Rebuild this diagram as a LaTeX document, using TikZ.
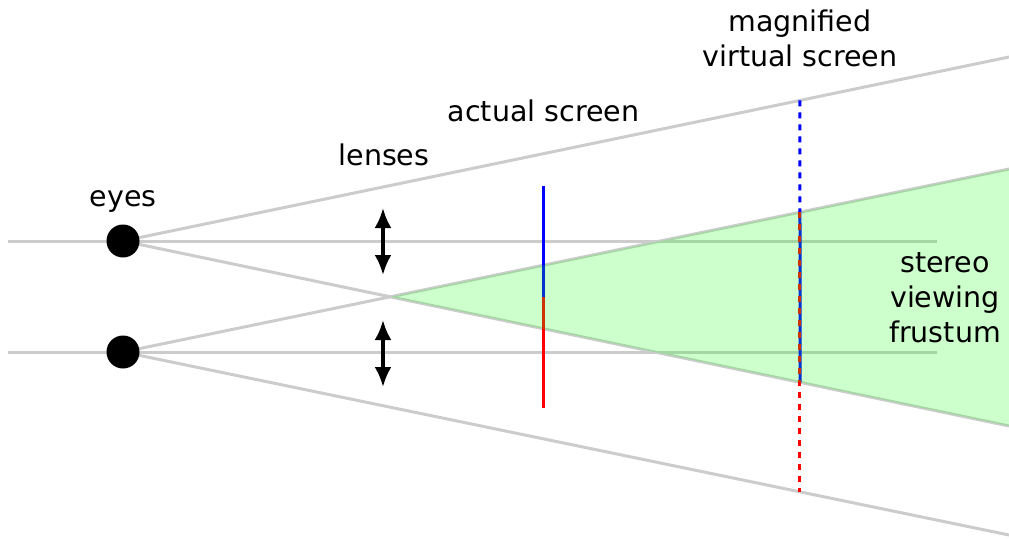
\documentclass[tikz,border=0pt]{standalone}
\usepackage{fontspec}
\setmainfont{DejaVu Sans}
\usetikzlibrary{arrows.meta,calc}
\definecolor{raygray}{HTML}{CCCCCC}
\definecolor{scrblue}{HTML}{0000FF}
\definecolor{scrred}{HTML}{FF0000}
\begin{document}
\begin{tikzpicture}[x=1pt,y=-1pt,
  ray/.style={draw=raygray, line width=3pt},
  eye/.style={circle, fill=black, minimum size=33pt, inner sep=0pt},
  lens/.style={draw=black, line width=3.5pt, {Latex[length=20pt,width=17pt]}-{Latex[length=20pt,width=17pt]}},
  scr/.style={line width=3pt},
  vdash/.style={line width=3pt, dash pattern=on 6pt off 6pt},
  lbl/.style={font=\fontsize{28.5}{35}\selectfont, inner sep=0pt, align=center},
  frustum/.style={fill=green, fill opacity=0.2}]
\useasboundingbox (0,0) rectangle (1009,538);
% coordinates
\coordinate (eA) at (123,241);
\coordinate (eB) at (123,352);
\coordinate (hA0) at (8,241);
\coordinate (hA1) at (937,241);
\coordinate (hB0) at (8,352);
\coordinate (hB1) at (937,352);
\coordinate (tA) at (1009,57);
\coordinate (bA) at (1009,426);
\coordinate (tB) at (1009,169);
\coordinate (bB) at (1009,535);
\coordinate (apex) at (intersection of eA--bA and eB--tB);
\coordinate (v0) at (800,0);
\coordinate (v1) at (800,538);
\coordinate (vt) at (intersection of eA--tA and v0--v1);
\coordinate (vg1) at (intersection of eB--tB and v0--v1);
\coordinate (vg2) at (intersection of eA--bA and v0--v1);
\coordinate (vb) at (intersection of eB--bB and v0--v1);
\coordinate (sTop) at (543,186);
\coordinate (sMid) at (543,297);
\coordinate (sBot) at (543,408);
\coordinate (lA1) at (383,208);
\coordinate (lA2) at (383,275);
\coordinate (lB1) at (383,320);
\coordinate (lB2) at (383,387);
% rays
\draw[ray] (hA0) -- (hA1);
\draw[ray] (hB0) -- (hB1);
\draw[ray] (eA) -- (tA);
\draw[ray] (eA) -- (bA);
\draw[ray] (eB) -- (tB);
\draw[ray] (eB) -- (bB);
% actual screen
\draw[scr, scrblue] (sTop) -- (sMid);
\draw[scr, scrred] (sMid) -- (sBot);
% virtual screen
\draw[vdash, scrblue] (vt) -- (vg1);
\draw[scr, scrblue] (vg1) -- (vg2);
\draw[vdash, scrred] (vg1) -- (vb);
% frustum
\fill[frustum] (apex) -- (tB) -- (bA) -- cycle;
% eyes
\node[eye] (eyeA) at (eA) {};
\node[eye] (eyeB) at (eB) {};
% lenses
\draw[lens] (lA1) -- (lA2);
\draw[lens] (lB1) -- (lB2);
% labels
\node[lbl, anchor=base] (teyes) at (123,206) {eyes};
\node[lbl, anchor=base] (tlenses) at (384,165) {lenses};
\node[lbl, anchor=base] (tactual) at (543.5,121) {actual screen};
\node[lbl, anchor=base] (tvirt) at (800,66) {magnified\\virtual screen};
\node[lbl, anchor=base] (tstereo) at (945,342) {stereo\\viewing\\frustum};
\end{tikzpicture}
\end{document}
